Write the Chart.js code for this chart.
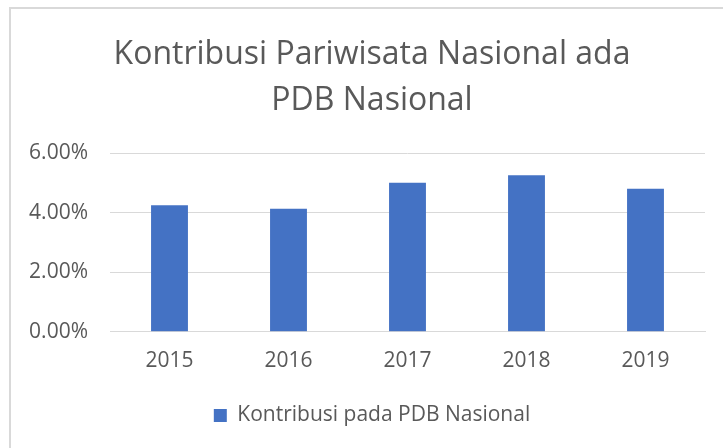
<!DOCTYPE html>
<html>
<head>
<meta charset="utf-8">
<script src="https://cdn.jsdelivr.net/npm/chart.js@4/dist/chart.umd.min.js"></script>
<style>
  html, body { margin: 0; padding: 0; background: #fff; }
  #wrap { position: relative; width: 723px; height: 448px; }
  #frame { position: absolute; left: 9px; top: 7px; right: -5px; bottom: -5px;
           border-top: 2px solid #d9d9d9; border-left: 2px solid #d9d9d9; }
  canvas { position: absolute; left: 0; top: 0; }
</style>
</head>
<body>
<div id="wrap">
  <div id="frame"></div>
  <canvas id="myChart1" width="723" height="448"></canvas>
</div>
<script>
var titleLines = ['Kontribusi Pariwisata Nasional ada', 'PDB Nasional'];
var years = ['2015', '2016', '2017', '2018', '2019'];
var kontribusi = [0.0425, 0.0413, 0.0500, 0.0525, 0.0480];
var seriesName = 'Kontribusi pada PDB Nasional';
var yTicks = [0, 0.02, 0.04, 0.06];

document.addEventListener('DOMContentLoaded', function(){
    var grey = '#595959';
    var data = {
        labels: years,
        datasets: [{
            label: seriesName,
            backgroundColor: '#4472c4',
            borderWidth: 0,
            data: kontribusi,
            categoryPercentage: 1,
            barPercentage: 0.31
        }]
    };
    var options = {
        responsive: false,
        animation: false,
        // title and legend are centred a bit right of the canvas middle
        layout: { padding: { left: 21, right: 0, top: 0, bottom: 12 } },
        plugins: {
            title: {
                display: true,
                text: titleLines,
                color: grey,
                font: { family: 'Open Sans', size: 32, weight: 'normal', lineHeight: 1.4375 },
                padding: { top: 32, bottom: 29 }
            },
            legend: {
                position: 'bottom',
                labels: {
                    color: grey,
                    boxWidth: 13,
                    boxHeight: 13,
                    font: { family: 'Open Sans', size: 21 },
                    padding: 14
                }
            },
            tooltip: { enabled: false }
        },
        scales: {
            x: {
                grid: { display: false, drawTicks: false },
                border: { color: '#d9d9d9', width: 1 },
                ticks: { color: grey, font: { family: 'Open Sans', size: 21 }, padding: 17 }
            },
            y: {
                min: 0,
                max: 0.06,
                afterBuildTicks: function(scale){
                    scale.ticks = yTicks.map(function(v){ return { value: v }; });
                },
                afterFit: function(scale){ scale.width = 89; },
                grid: { color: '#d9d9d9', drawTicks: false },
                border: { display: false },
                ticks: {
                    color: grey,
                    font: { family: 'Open Sans', size: 21 },
                    padding: 22,
                    callback: function(v){ return (v * 100).toFixed(2) + '%'; }
                }
            },
            // empty spacer on the right so the plot stops short of the edge
            spacer: {
                axis: 'y',
                position: 'right',
                grid: { display: false, drawTicks: false },
                border: { display: false },
                ticks: { display: false },
                afterFit: function(scale){ scale.width = 18; }
            }
        }
    };
    var ctx = document.getElementById('myChart1').getContext('2d');
    var myChart1 = new Chart(ctx, {
        type: 'bar',
        data: data,
        options: options
    });
});
</script>
</body>
</html>
